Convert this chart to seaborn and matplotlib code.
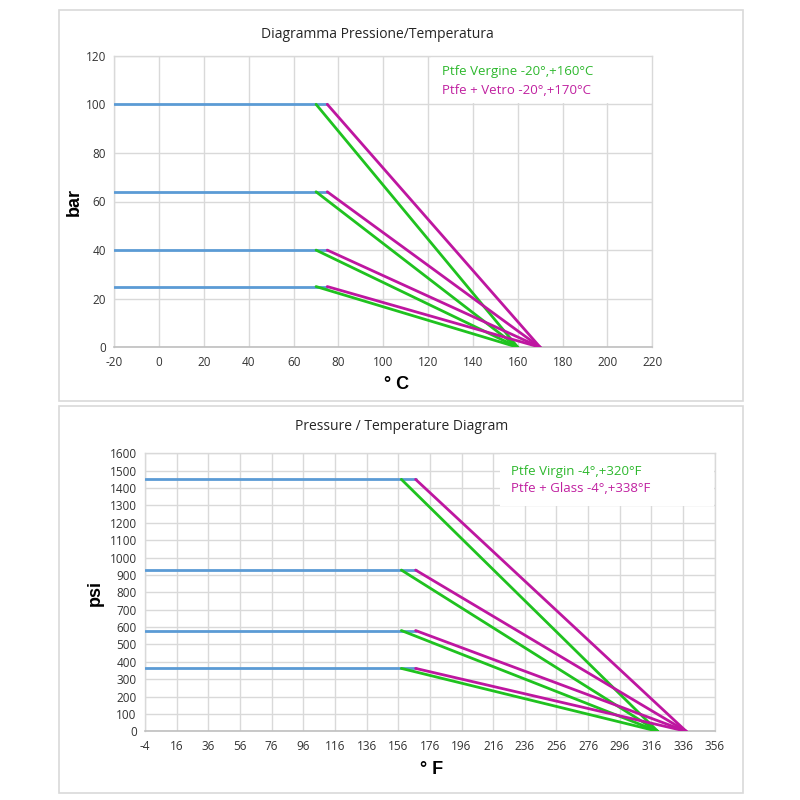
import matplotlib
matplotlib.use("Agg")
import matplotlib.pyplot as plt
from matplotlib.patches import Rectangle
import seaborn as sns
import numpy as np
import pandas as pd

# ---- data: metric chart ----
levels_bar = [100, 64, 40, 25]
flat_start_c = -20
flat_end_c = 75
virgin_knee_c = 70
virgin_zero_c = 160
glass_knee_c = 75
glass_zero_c = 170
xticks_c = list(range(-20, 221, 20))
yticks_bar = list(range(0, 121, 20))

# ---- data: imperial chart ----
levels_psi = [1450, 928, 580, 362]
flat_start_f = -4
flat_end_f = 167
virgin_knee_f = 158
virgin_zero_f = 320
glass_knee_f = 167
glass_zero_f = 338
xticks_f = list(range(-4, 357, 20))
yticks_psi = list(range(0, 1601, 100))

legend_top = ["Ptfe Vergine -20°,+160°C", "Ptfe + Vetro -20°,+170°C"]
legend_bot = ["Ptfe Virgin -4°,+320°F", "Ptfe + Glass -4°,+338°F"]

BLUE = "#5B9BD5"
GREEN = "#1FC21F"
MAGENTA = "#BE16A0"
GRID = "#D9D9D9"
TXT = "#333333"

sns.set_theme(style="white")
plt.rcParams["font.family"] = ["Open Sans", "DejaVu Sans"]
plt.rcParams["axes.unicode_minus"] = False

fig = plt.figure(figsize=(8, 8), dpi=100)
fig.patch.set_facecolor("white")

# panel frames
for (x0, y0, w, h) in [(59, 10, 683.5, 391), (59, 406, 683.5, 387)]:
    fig.add_artist(Rectangle((x0 / 800, 1 - (y0 + h) / 800), w / 800, h / 800,
                             transform=fig.transFigure, fill=False,
                             edgecolor="#D9D9D9", linewidth=1.2))


def build(levels, fs, fe, vk, vz, gk, gz):
    rows = []
    for i, p in enumerate(levels):
        rows += [("flat%d" % i, "flat", fs, p), ("flat%d" % i, "flat", fe, p)]
        rows += [("vir%d" % i, "virgin", vk, p), ("vir%d" % i, "virgin", vz, 0)]
        rows += [("gla%d" % i, "glass", gk, p), ("gla%d" % i, "glass", gz, 0)]
    return pd.DataFrame(rows, columns=["seg", "kind", "t", "p"])


def draw(ax, df, xticks, yticks):
    for kind, col in [("flat", BLUE), ("virgin", GREEN), ("glass", MAGENTA)]:
        sub = df[df.kind == kind]
        sns.lineplot(data=sub, x="t", y="p", units="seg", estimator=None,
                     sort=False, color=col, linewidth=2.0, ax=ax, zorder=3)
    ax.set_xlim(xticks[0], xticks[-1])
    ax.set_ylim(yticks[0], yticks[-1])
    ax.set_xticks(xticks)
    ax.set_yticks(yticks)
    ax.grid(True, color=GRID, linewidth=1.0)
    ax.set_axisbelow(True)
    for s in ["top", "right", "left"]:
        ax.spines[s].set_color(GRID)
        ax.spines[s].set_linewidth(1.0)
    ax.spines["bottom"].set_color("#BFBFBF")
    ax.spines["bottom"].set_linewidth(1.2)
    ax.tick_params(axis="both", length=0, labelsize=8.5, colors=TXT, pad=6)
    ax.set_xlabel("")
    ax.set_ylabel("")


def legend_box(ax, x0, y0, x1, y1):
    ax.add_patch(Rectangle((x0 / 800, 1 - y1 / 800), (x1 - x0) / 800, (y1 - y0) / 800,
                           transform=fig.transFigure, facecolor="white", edgecolor="none",
                           zorder=1, clip_on=False))


# top axes
ax1 = fig.add_axes([114.3 / 800, 1 - 347.3 / 800, 538 / 800, 291.6 / 800])
draw(ax1, build(levels_bar, flat_start_c, flat_end_c, virgin_knee_c, virgin_zero_c,
                glass_knee_c, glass_zero_c), xticks_c, yticks_bar)
legend_box(ax1, 431, 56.5, 651.5, 103)
# bottom axes
ax2 = fig.add_axes([145 / 800, 1 - 731.3 / 800, 569.7 / 800, 278 / 800])
draw(ax2, build(levels_psi, flat_start_f, flat_end_f, virgin_knee_f, virgin_zero_f,
                glass_knee_f, glass_zero_f), xticks_f, yticks_psi)
legend_box(ax2, 500, 454, 714, 506)

fig.text(442 / 800, 1 - 72 / 800, legend_top[0], color="#2DB82D", fontsize=9.5, va="center", ha="left")
fig.text(442 / 800, 1 - 90 / 800, legend_top[1], color="#C020A0", fontsize=9.5, va="center", ha="left")
fig.text(511 / 800, 1 - 472 / 800, legend_bot[0], color="#2DB82D", fontsize=9.5, va="center", ha="left")
fig.text(511 / 800, 1 - 489 / 800, legend_bot[1], color="#C020A0", fontsize=9.5, va="center", ha="left")

# titles
fig.text(377 / 800, 1 - 35 / 800, "Diagramma Pressione/Temperatura", fontsize=10, color="#262626",
         ha="center", va="center")
fig.text(402 / 800, 1 - 426 / 800, "Pressure / Temperature Diagram", fontsize=10, color="#262626",
         ha="center", va="center")

# axis labels
lab = dict(family=["Liberation Sans", "DejaVu Sans"], fontweight="bold", fontsize=13, color="black",
           ha="center", va="center")
fig.text(74 / 800, 1 - 202 / 800, "bar", rotation=90, **lab)
fig.text(397 / 800, 1 - 385 / 800, "° C", **lab)
fig.text(95 / 800, 1 - 593 / 800, "psi", rotation=90, **lab)
fig.text(432 / 800, 1 - 769 / 800, "° F", **lab)

fig.savefig("out.png", dpi=100, facecolor="white")
